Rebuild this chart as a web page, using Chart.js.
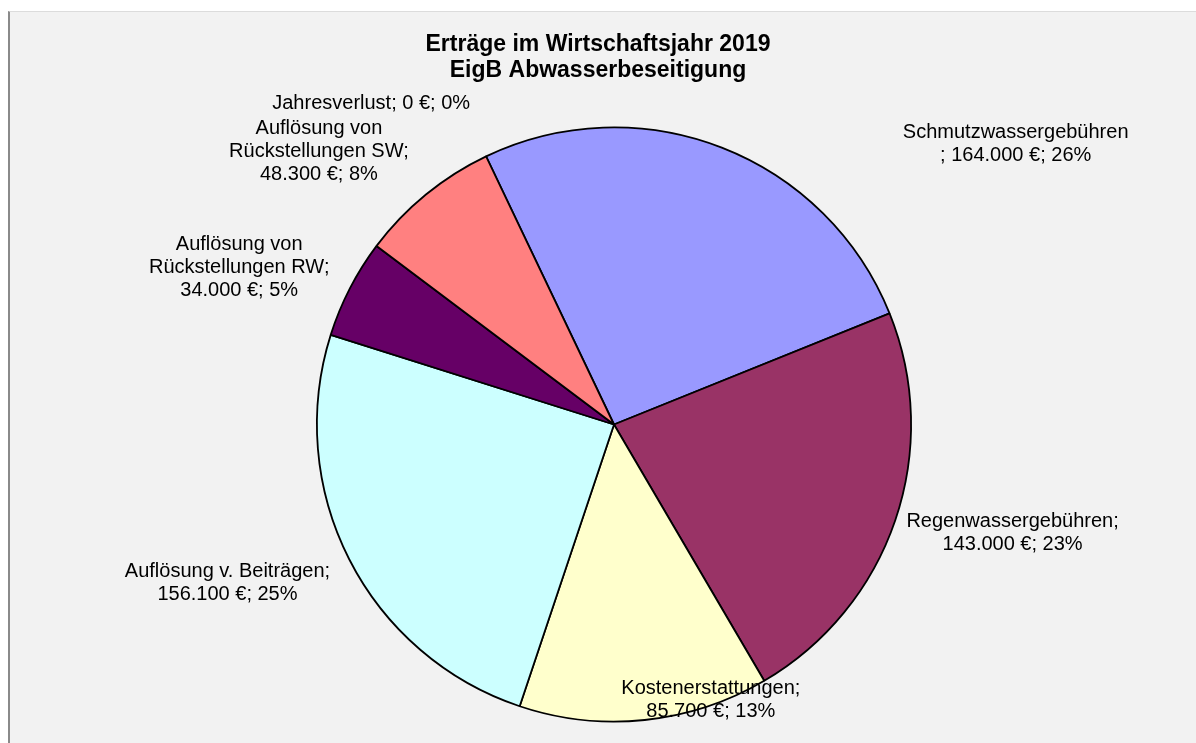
<!DOCTYPE html>
<html>
<head>
<meta charset="utf-8">
<script src="https://cdn.jsdelivr.net/npm/chart.js@4/dist/chart.umd.min.js"></script>
<style>
    html, body { margin: 0; padding: 0; background: #ffffff; }
    #panel {
        position: absolute; left: 8px; top: 11px; width: 1188px; height: 732px;
        background: #f2f2f2; border-left: 2px solid #8a8a8a; border-top: 1px solid #dcdcdc;
        box-sizing: border-box;
    }
    #chart { display: block; }
</style>
</head>
<body>
<div id="panel"><canvas id="chart"></canvas></div>
<script>
// Erträge, Wirtschaftsjahr 2019
const titleLines = ['Erträge im Wirtschaftsjahr 2019', 'EigB Abwasserbeseitigung'];
const categories = ['Schmutzwassergebühren', 'Regenwassergebühren', 'Kostenerstattungen',
    'Auflösung v. Beiträgen', 'Auflösung von Rückstellungen RW', 'Auflösung von Rückstellungen SW', 'Jahresverlust'];
const values = [164000, 143000, 85700, 156100, 34000, 48300, 0];
const percents = [26, 23, 13, 25, 5, 8, 0];
const colors = ['#9999ff', '#993366', '#ffffcc', '#ccffff', '#660066', '#ff8080', '#ffffc0'];

function euro(v) {
    return String(v).replace(/\B(?=(\d{3})+(?!\d))/g, '.') + ' €';
}

// text lines of each data label, wrapped like the original
function labelLines(i) {
    const tail = euro(values[i]) + '; ' + percents[i] + '%';
    switch (i) {
        case 0: return [categories[0], '; ' + tail];
        case 4: return ['Auflösung von', 'Rückstellungen RW;', tail];
        case 5: return ['Auflösung von', 'Rückstellungen SW;', tail];
        case 6: return [categories[6] + '; ' + tail];
        default: return [categories[i] + ';', tail];
    }
}

// nudge of each label from the point just outside its slice
const labelNudge = [[283, 24], [89, 3], [63, -50], [-95, 10], [-84, -7], [-88, -20], [-102, -26]];

const titlePlugin = {
    id: 'titleText',
    afterDraw(chart) {
        const ctx = chart.ctx;
        ctx.save();
        ctx.fillStyle = '#000';
        ctx.font = 'bold 23px "Liberation Sans", Arial, sans-serif';
        ctx.textAlign = 'center';
        ctx.textBaseline = 'middle';
        ctx.fillText(titleLines[0], 588, 33);
        ctx.fillText(titleLines[1], 588, 59);
        ctx.restore();
    }
};

const labelPlugin = {
    id: 'sliceLabels',
    afterDatasetsDraw(chart) {
        const ctx = chart.ctx;
        const arcs = chart.getDatasetMeta(0).data;
        ctx.save();
        ctx.fillStyle = '#000';
        ctx.font = '20px "Liberation Sans", Arial, sans-serif';
        ctx.textAlign = 'center';
        ctx.textBaseline = 'middle';
        arcs.forEach((arc, i) => {
            const p = arc.getProps(['x', 'y', 'startAngle', 'endAngle', 'outerRadius'], true);
            const mid = (p.startAngle + p.endAngle) / 2;
            const r = p.outerRadius + 30;
            const cx = p.x + Math.cos(mid) * r + labelNudge[i][0];
            const cy = p.y + Math.sin(mid) * r + labelNudge[i][1];
            const lines = labelLines(i);
            const lh = 23;
            const y0 = cy - (lines.length - 1) * lh / 2;
            lines.forEach((t, k) => ctx.fillText(t, cx, y0 + k * lh));
        });
        ctx.restore();
    }
};

const ctx = document.getElementById('chart').getContext('2d');
new Chart(ctx, {
    type: 'pie',
    data: {
        labels: categories,
        datasets: [{
            data: values,
            backgroundColor: colors,
            borderColor: '#000000',
            borderWidth: 1.8
        }]
    },
    options: {
        responsive: true,
        maintainAspectRatio: false,
        animation: false,
        rotation: -25.5,
        layout: { padding: { left: 306, right: 284, top: 114, bottom: 20 } },
        plugins: {
            legend: { display: false },
            tooltip: { enabled: false },
            title: { display: false }
        }
    },
    plugins: [titlePlugin, labelPlugin]
});
</script>
</body>
</html>
